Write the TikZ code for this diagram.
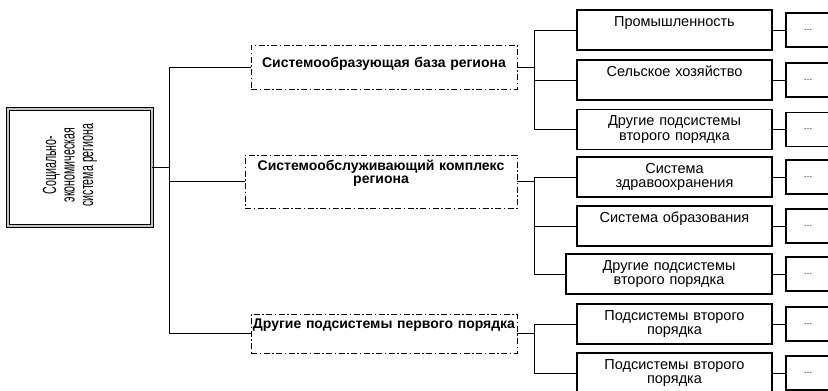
\documentclass[tikz,border=0pt]{standalone}
\usepackage{fontspec}
\setmainfont{Liberation Sans}
\usepackage{tikz}
\usetikzlibrary{positioning}
\tikzset{
region/.style={draw=black, line width=0.9pt, double=gray!45, double distance=1.6pt, minimum width=144pt, minimum height=117pt, inner sep=0pt},
regtext/.style={font=\fontsize{19}{18.5}\selectfont, align=center, rotate=90, xscale=0.56, transform shape},
first/.style={draw, line width=0.9pt, dash pattern=on 6pt off 2.5pt on 1.5pt off 2.5pt, font=\fontsize{14}{13.5}\selectfont\bfseries, align=center, inner sep=0pt},
second/.style={draw, line width=1.1pt, font=\fontsize{14.5}{14.5}\selectfont, text width=185pt, inner xsep=5pt, inner ysep=0pt, align=center, text height=16pt, text depth=24pt},
dots/.style={draw, line width=1.1pt, minimum width=44pt, minimum height=34pt, inner sep=0pt, font=\small},
link/.style={line width=0.8pt}
}
\begin{document}
\begin{tikzpicture}[x=1pt, y=-1pt]
\useasboundingbox (0,0) rectangle (828,391);
\clip (0,0) rectangle (828,391);

\node[region] (soc) at (80,167.5) {};
\node[regtext] (soctext) at (70,165) {Социально-\\экономическая\\система региона};

\node[first, text width=266pt, text height=22pt, text depth=22pt] (base) at (384,67) {Системообразующая база региона};
\node[first, text width=272pt, text height=15pt, text depth=38pt] (service) at (381,181.5) {Системообслуживающий комплекс\\региона};
\node[first, text width=266pt, text height=14pt, text depth=25pt] (other) at (384,333.5) {Другие подсистемы первого порядка};

\node[second] (prom) at (674.5,30) {Промышленность};
\node[second] (selo) at (674.5,80) {Сельское хозяйство};
\node[second] (sub1) at (674.5,129.5) {Другие подсистемы\\второго порядка};
\node[second] (health) at (674.5,177) {Система\\здравоохранения};
\node[second] (edu) at (674.5,226) {Система образования};
\node[second, text width=196pt] (sub2) at (669,274) {Другие подсистемы\\второго порядка};
\node[second] (ord1) at (674.5,324) {Подсистемы второго\\порядка};
\node[second] (ord2) at (674.5,373) {Подсистемы второго\\порядка};

\draw[link] (soc.east) -- ++(17,0) coordinate (trunk);
\foreach \n in {base,service,other}
  \draw[link] (trunk) |- (\n.west);

\draw[link] (base.east) -- ++(17,0) coordinate (bus1);
\foreach \n in {prom,selo,sub1}
  \draw[link] (bus1) |- (\n.west);
\draw[link] (service.east) -- ++(17,0) coordinate (bus2);
\foreach \n in {health,edu,sub2}
  \draw[link] (bus2) |- (\n.west);
\draw[link] (other.east) -- ++(17,0) coordinate (bus3);
\foreach \n in {ord1,ord2}
  \draw[link] (bus3) |- (\n.west);

\foreach \n/\y in {prom/30,selo/80,sub1/129.5,health/177,edu/226,sub2/274,ord1/324,ord2/373}{
  \node[dots] (e-\n) at (808,\y) {\dots};
  \draw[link] (\n.east) -- (e-\n.west);
}
\end{tikzpicture}
\end{document}
